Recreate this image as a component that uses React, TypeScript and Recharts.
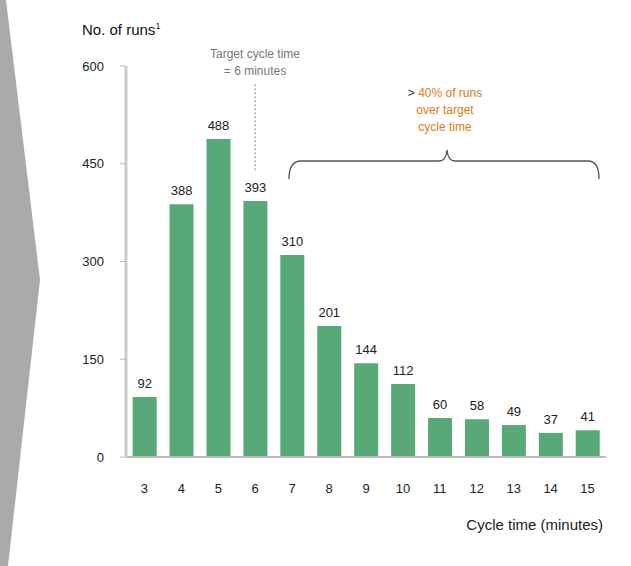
import React from "react";
import { BarChart, Bar, XAxis, YAxis, LabelList, ReferenceLine } from "recharts";

const cycleTimes = [3, 4, 5, 6, 7, 8, 9, 10, 11, 12, 13, 14, 15];
const runs = [92, 388, 488, 393, 310, 201, 144, 112, 60, 58, 49, 37, 41];
const yTicks = [0, 150, 300, 450, 600];
const targetCycle = 6;

const data = cycleTimes.map((c, i) => ({ cycle: c, runs: runs[i] }));

const FONT = "'Liberation Sans', Arial, sans-serif";

export default function App() {
  return (
    <div style={{ position: "absolute", left: 0, top: 0, width: 631, height: 566, background: "#fff", fontFamily: FONT }}>
      <svg width={631} height={566} style={{ position: "absolute", left: 0, top: 0 }}>
        <polygon points="0,0 6,0 40,280 8,566 0,566" fill="#aaaaaa" />
      </svg>
      <div style={{ position: "absolute", left: 0, top: 0 }}>
        <BarChart
          width={631}
          height={566}
          data={data}
          margin={{ top: 66, right: 25, left: 0, bottom: 79 }}
          barCategoryGap="18%"
        >
          <XAxis
            dataKey="cycle"
            height={30}
            axisLine={{ stroke: "#bbbbbb", strokeWidth: 2 }}
            tickLine={false}
            tick={{ fill: "#222", fontSize: 13, fontFamily: FONT }}
            tickMargin={21}
          />
          <YAxis
            width={126}
            domain={[0, 600]}
            ticks={yTicks}
            axisLine={{ stroke: "#cccccc", strokeWidth: 3 }}
            tickLine={{ stroke: "#bbbbbb" }}
            tickSize={6}
            tick={{ fill: "#222", fontSize: 13, fontFamily: FONT }}
            tickMargin={16}
          />
          <ReferenceLine
            segment={[
              { x: targetCycle, y: 440 },
              { x: targetCycle, y: 572 },
            ]}
            stroke="#888"
            strokeDasharray="2 2"
          />
          <Bar dataKey="runs" fill="#58a878" isAnimationActive={false}>
            <LabelList dataKey="runs" position="top" offset={9} fill="#222" fontSize={13} fontFamily={FONT} />
          </Bar>
        </BarChart>
      </div>
      <svg width={631} height={566} style={{ position: "absolute", left: 0, top: 0, pointerEvents: "none" }}>
        <text x={82} y={35} fontSize={15} fill="#111" fontFamily={FONT}>
          No. of runs<tspan fontSize={9} dy={-6}>1</tspan>
        </text>
        <text x={255} y={58} fontSize={12} fill="#777" textAnchor="middle" fontFamily={FONT}>Target cycle time</text>
        <text x={255} y={75} fontSize={12} fill="#777" textAnchor="middle" fontFamily={FONT}>= 6 minutes</text>
        <text x={445} y={97} fontSize={12} fill="#e07a1a" textAnchor="middle" fontFamily={FONT}>
          <tspan fill="#333">&gt; </tspan>40% of runs
        </text>
        <text x={445} y={114} fontSize={12} fill="#e07a1a" textAnchor="middle" fontFamily={FONT}>over target</text>
        <text x={445} y={131} fontSize={12} fill="#e07a1a" textAnchor="middle" fontFamily={FONT}>cycle time</text>
        <path
          d="M289,179 Q289,161 301,161 L439,161 Q446,161 447,150 Q448,161 455,161 L588,161 Q599,161 599,179"
          fill="none"
          stroke="#555"
          strokeWidth={1.3}
        />
        <text x={603} y={530} fontSize={15} fill="#222" textAnchor="end" fontFamily={FONT}>Cycle time (minutes)</text>
      </svg>
    </div>
  );
}
